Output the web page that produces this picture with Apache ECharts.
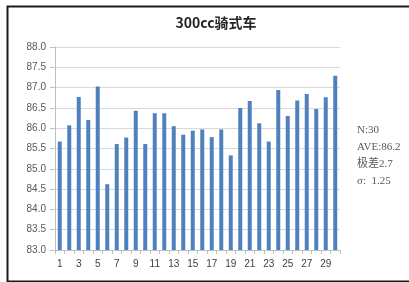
<!DOCTYPE html>
<html lang="zh">
<head>
    <meta charset="UTF-8">
    <title>300cc骑式车</title>
    <script src="https://cdn.jsdelivr.net/npm/echarts@6/dist/echarts.min.js"></script>
    <style>
        html, body { margin: 0; padding: 0; background: #fff; }
        #main { width: 409px; height: 282px; }
    </style>
</head>
<body>
<div id="main"></div>
<script type="text/javascript">
    // 数据
    var categories = [];
    for (var i = 1; i <= 30; i++) { categories.push(String(i)); }
    var values = [85.67, 86.07, 86.77, 86.20, 87.03, 84.62, 85.61, 85.77, 86.43, 85.61,
                  86.37, 86.37, 86.05, 85.84, 85.94, 85.97, 85.78, 85.97, 85.33, 86.50,
                  86.67, 86.12, 85.67, 86.94, 86.30, 86.68, 86.84, 86.47, 86.76, 87.29];
    var statLines = ['N:30', 'AVE:86.2', '极差2.7', 'σ:  1.25'];

    var myChart = echarts.init(document.getElementById('main'));

    var option = {
        backgroundColor: '#fff',
        animation: false,
        title: {
            text: '300cc骑式车',
            left: 211,
            textAlign: 'center',
            top: 11,
            textStyle: { fontSize: 14, fontWeight: 'bold', color: '#262626', fontFamily: 'Noto Sans CJK SC' }
        },
        grid: { left: 55, right: 69, top: 47, bottom: 32 },
        xAxis: {
            type: 'category',
            data: categories,
            axisLine: { lineStyle: { color: '#bfbfbf' } },
            axisTick: { show: true, interval: 0, length: 4, lineStyle: { color: '#bfbfbf' } },
            axisLabel: { interval: 1, color: '#404040', fontSize: 10, margin: 9, fontFamily: 'Liberation Sans' }
        },
        yAxis: {
            type: 'value',
            min: 83,
            max: 88,
            interval: 0.5,
            axisLine: { show: true, lineStyle: { color: '#bfbfbf' } },
            axisTick: { show: true, length: 5, lineStyle: { color: '#bfbfbf' } },
            axisLabel: {
                color: '#595959', fontSize: 10, margin: 9, fontFamily: 'Liberation Sans',
                formatter: function (v) { return v.toFixed(1); }
            },
            splitLine: { lineStyle: { color: '#d9d9d9' } }
        },
        series: [{
            type: 'bar',
            data: values,
            barWidth: 4,
            itemStyle: { color: '#4f81bd' }
        }],
        graphic: [
            {
                type: 'rect',
                left: 5, top: 4,
                shape: { width: 420, height: 275 },
                style: { fill: 'none', stroke: '#1a1a1a', lineWidth: 2 },
                silent: true
            },
            {
                type: 'text',
                left: 357, top: 122,
                style: {
                    text: statLines.join('\n'),
                    fill: '#595959',
                    font: '11px "Liberation Serif", "Noto Sans CJK SC"',
                    lineHeight: 17
                }
            }
        ]
    };
    myChart.setOption(option);
</script>
</body>
</html>
